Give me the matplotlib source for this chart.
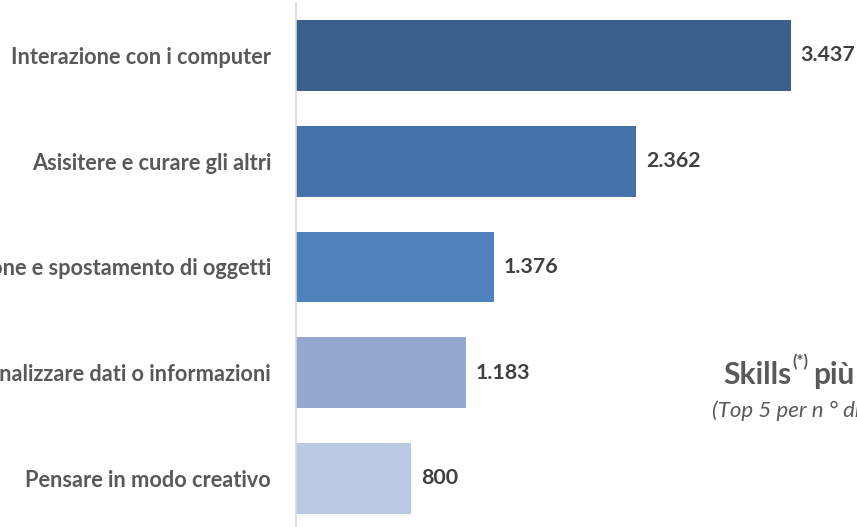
import matplotlib
matplotlib.use("Agg")
import matplotlib.pyplot as plt

# Top 5 skills, ordered top -> bottom
categories = [
    "Interazione con i computer",
    "Asisitere e curare gli altri",
    "Manipolazione e spostamento di oggetti",
    "Analizzare dati o informazioni",
    "Pensare in modo creativo",
]
values = [3437, 2362, 1376, 1183, 800]
value_labels = ["3.437", "2.362", "1.376", "1.183", "800"]
bar_colors = ["#3B5F8C", "#4472A8", "#4F81BD", "#95A9CF", "#BBC8E1"]

FONT = "Lato"
W, H = 857, 527

fig = plt.figure(figsize=(W / 100, H / 100), dpi=100)
ax = fig.add_axes([296 / W, 0, 1 - 296 / W, 524 / H])

ypos = list(range(len(categories)))
ax.barh(ypos, values, height=0.67, color=bar_colors)
ax.set_xlim(0, 561 / 0.144)
ax.set_ylim(4.459, -0.496)

for y, v, lab in zip(ypos, values, value_labels):
    ax.annotate(lab, xy=(v, y), xytext=(7, 0), textcoords="offset points",
                ha="left", va="center", fontsize=15.4, fontweight="bold",
                color="#404040", family=FONT)

ax.set_yticks(ypos)
ax.set_yticklabels(categories, fontsize=15.7, fontweight="bold",
                   color="#595959", family=FONT)
ax.tick_params(axis="y", length=0, pad=18)
ax.set_xticks([])
for side in ["top", "right", "bottom"]:
    ax.spines[side].set_visible(False)
ax.spines["left"].set_color("#D9D9D9")
ax.spines["left"].set_linewidth(1.2)

# title block (cut by the right edge in the original)
t1 = fig.text(723 / W, 1 - 384 / H, "Skills", fontsize=21.5, fontweight="bold",
              color="#595959", family=FONT, ha="left", va="baseline")
t2 = ax.annotate("(*)", xy=(1, 0.66), xycoords=t1, xytext=(0.5, 0),
                 textcoords="offset points", fontsize=12, fontweight="bold",
                 color="#595959", family=FONT, ha="left", va="bottom")
ax.annotate("più", xy=(1, 0), xycoords=(t2, t1), xytext=(4, 0),
            textcoords="offset points", fontsize=21.5, fontweight="bold",
            color="#595959", family=FONT, ha="left", va="bottom")
fig.text(712 / W, 1 - 417 / H, "(Top 5 per n ° di", fontsize=16,
         style="italic", color="#595959", family=FONT, ha="left",
         va="baseline")

fig.savefig("out.png", dpi=100)
